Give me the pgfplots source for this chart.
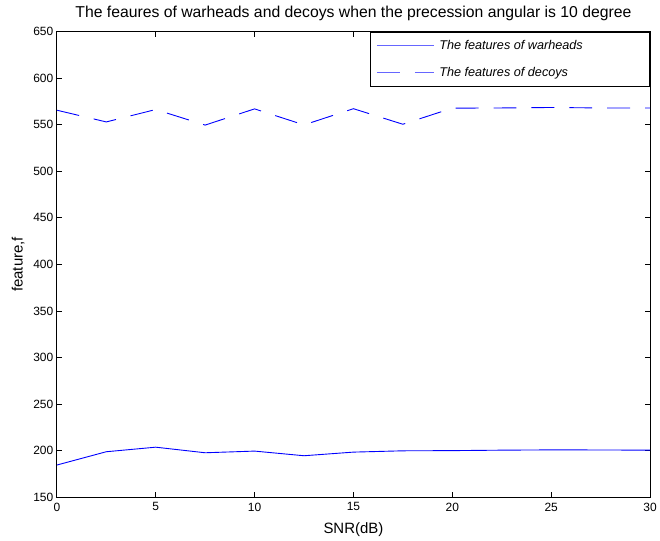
\documentclass[border=0pt]{standalone}
\usepackage{pgfplots}
\pgfplotsset{compat=1.18}
\usepackage{fontspec}
\setmainfont{Liberation Sans}
\definecolor{mblue}{RGB}{0,0,255}
\begin{document}
\begin{tikzpicture}
\begin{axis}[width=595pt,height=467pt,scale only axis,
  xmin=0,xmax=30,ymin=150,ymax=650,
  xtick={0,5,...,30},ytick={150,200,...,650},
  tick align=inside,major tick length=5pt,
  axis line style={black,line width=0.8pt},
  every tick/.style={black,line width=0.8pt},
  tick label style={font=\fontsize{12}{14}\selectfont},
  xticklabel style={yshift=-2pt},
  /pgf/number format/assume math mode=true,
  title={The feaures of warheads and decoys when the precession angular is 10 degree},
  title style={font=\fontsize{15.8}{18}\selectfont,yshift=1pt},
  xlabel={SNR(dB)},ylabel={feature,f},
  label style={font=\fontsize{15}{18}\selectfont},
  xlabel style={yshift=-5pt},ylabel style={yshift=2pt},
  legend style={at={(1,1)},anchor=north east,draw=black,line width=0.8pt,fill=white,
    font=\fontsize{12.7}{15}\selectfont\itshape,row sep=13pt,inner sep=6pt},
  legend cell align=left,
  legend image code/.code={\draw[#1,draw=mblue!60,line width=1.1pt] (0pt,0pt) -- (57pt,0pt);},
  ]
\addplot[mblue,line width=0.9pt] coordinates {
(0,184.5) (2.5,198.8) (5,203.7) (7.5,197.7) (10,199.5) (12.5,194.5) (15,198.4)
(17.5,199.8) (20,200) (22.5,200.5) (25,200.8) (27.5,200.7) (30,200.5)};
\addplot[mblue,line width=0.9pt,dash pattern=on 23pt off 15pt] coordinates {
(0,565.6) (2.5,553) (5,566.3) (7.5,549.6) (10,567) (12.5,549.8) (15,567.2)
(17.5,550.5) (20,567.8) (22.5,568) (25,568.5) (27.5,568) (30,568)};
\legend{\hspace{3pt}\makebox[203pt][l]{The features of warheads},\hspace{3pt}\makebox[203pt][l]{The features of decoys}}
\end{axis}
\path ([shift={(-57pt,-40pt)}]current axis.south west) rectangle ([shift={(8pt,31.7pt)}]current axis.north east);
\end{tikzpicture}
\end{document}
